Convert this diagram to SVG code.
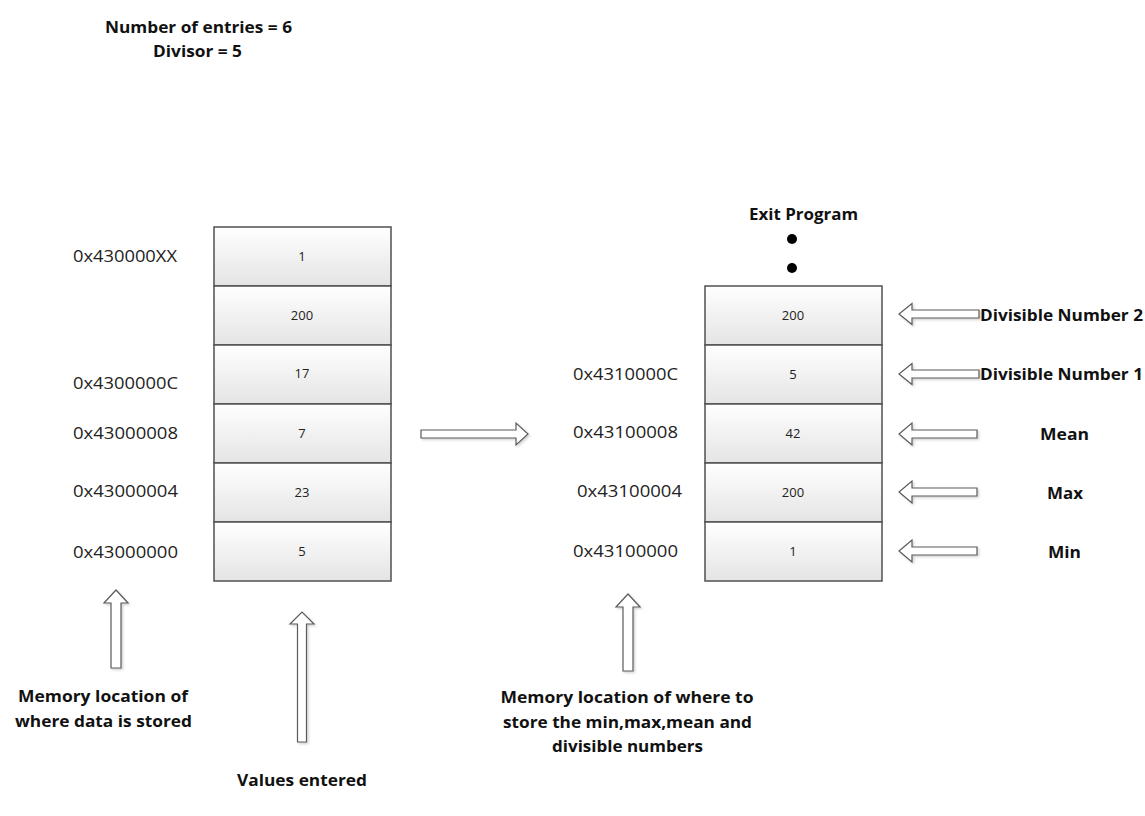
<svg xmlns="http://www.w3.org/2000/svg" width="1145" height="816" viewBox="0 0 1145 816">
<style>
.cell{stroke:#505050;stroke-width:1.5;fill:url(#g)}
.val{font-family:"Open Sans","Liberation Sans",sans-serif;font-size:13px;fill:#222;text-anchor:middle}
.addr{font-family:"Open Sans","Liberation Sans",sans-serif;font-size:17px;fill:#222}
.lbl{font-family:"Open Sans","Liberation Sans",sans-serif;font-size:16.5px;font-weight:bold;fill:#111}
.mid{text-anchor:middle}
.arr{fill:#fff;stroke:#5a5a5a;stroke-width:1.2;filter:url(#sh)}
</style>
<defs>
<linearGradient id="g" x1="0" y1="0" x2="0" y2="1">
<stop offset="0" stop-color="#ffffff"/>
<stop offset="1" stop-color="#e4e4e4"/>
</linearGradient>
<filter id="sh" x="-20%" y="-20%" width="140%" height="140%">
<feDropShadow dx="1.5" dy="1.5" stdDeviation="1.2" flood-color="#000" flood-opacity="0.18"/>
</filter>
</defs>
<rect width="1145" height="816" fill="#fff"/>

<g id="header">
<text class="lbl mid" x="198.5" y="33" textLength="187" lengthAdjust="spacingAndGlyphs">Number of entries = 6</text>
<text class="lbl mid" x="197.5" y="57" textLength="89" lengthAdjust="spacingAndGlyphs">Divisor = 5</text>
</g>

<g id="left-stack">
<rect class="cell" x="214" y="227" width="177" height="59"/>
<rect class="cell" x="214" y="286" width="177" height="59"/>
<rect class="cell" x="214" y="345" width="177" height="59"/>
<rect class="cell" x="214" y="404" width="177" height="59"/>
<rect class="cell" x="214" y="463" width="177" height="59"/>
<rect class="cell" x="214" y="522" width="177" height="59"/>
<text class="val" x="302" y="261">1</text>
<text class="val" x="302" y="320">200</text>
<text class="val" x="302" y="378">17</text>
<text class="val" x="302" y="438">7</text>
<text class="val" x="302" y="497">23</text>
<text class="val" x="302" y="556">5</text>
</g>

<g id="left-addresses">
<text class="addr" x="73" y="262" textLength="104" lengthAdjust="spacingAndGlyphs">0x430000XX</text>
<text class="addr" x="73" y="389" textLength="105" lengthAdjust="spacingAndGlyphs">0x4300000C</text>
<text class="addr" x="73" y="439" textLength="105" lengthAdjust="spacingAndGlyphs">0x43000008</text>
<text class="addr" x="73" y="497" textLength="105" lengthAdjust="spacingAndGlyphs">0x43000004</text>
<text class="addr" x="73" y="558" textLength="105" lengthAdjust="spacingAndGlyphs">0x43000000</text>
</g>

<g id="right-stack">
<rect class="cell" x="705" y="286" width="177" height="59"/>
<rect class="cell" x="705" y="345" width="177" height="59"/>
<rect class="cell" x="705" y="404" width="177" height="59"/>
<rect class="cell" x="705" y="463" width="177" height="59"/>
<rect class="cell" x="705" y="522" width="177" height="59"/>
<text class="val" x="793" y="320">200</text>
<text class="val" x="793" y="379">5</text>
<text class="val" x="793" y="438">42</text>
<text class="val" x="793" y="497">200</text>
<text class="val" x="793" y="556">1</text>
</g>

<g id="exit">
<text class="lbl mid" x="803.5" y="220" textLength="109" lengthAdjust="spacingAndGlyphs">Exit Program</text>
<circle cx="792" cy="239" r="5" fill="#000"/>
<circle cx="792" cy="268" r="5" fill="#000"/>
</g>

<g id="right-addresses">
<text class="addr" x="573" y="380" textLength="105" lengthAdjust="spacingAndGlyphs">0x4310000C</text>
<text class="addr" x="573" y="438" textLength="105" lengthAdjust="spacingAndGlyphs">0x43100008</text>
<text class="addr" x="577" y="497" textLength="105" lengthAdjust="spacingAndGlyphs">0x43100004</text>
<text class="addr" x="573" y="557" textLength="105" lengthAdjust="spacingAndGlyphs">0x43100000</text>
</g>

<g id="right-labels">
<text class="lbl" x="980" y="321" textLength="163" lengthAdjust="spacingAndGlyphs">Divisible Number 2</text>
<text class="lbl" x="980" y="380" textLength="163" lengthAdjust="spacingAndGlyphs">Divisible Number 1</text>
<text class="lbl mid" x="1064.5" y="440" textLength="49" lengthAdjust="spacingAndGlyphs">Mean</text>
<text class="lbl mid" x="1065" y="499" textLength="36" lengthAdjust="spacingAndGlyphs">Max</text>
<text class="lbl mid" x="1064.5" y="558" textLength="33" lengthAdjust="spacingAndGlyphs">Min</text>
</g>

<g id="bottom-labels">
<text class="lbl mid" x="103" y="702" textLength="170" lengthAdjust="spacingAndGlyphs">Memory location of</text>
<text class="lbl mid" x="103.5" y="727" textLength="177" lengthAdjust="spacingAndGlyphs">where data is stored</text>
<text class="lbl mid" x="302" y="786" textLength="130" lengthAdjust="spacingAndGlyphs">Values entered</text>
<text class="lbl mid" x="627" y="703" textLength="253" lengthAdjust="spacingAndGlyphs">Memory location of where to</text>
<text class="lbl mid" x="627.5" y="728" textLength="249" lengthAdjust="spacingAndGlyphs">store the min,max,mean and</text>
<text class="lbl mid" x="627.5" y="752" textLength="151" lengthAdjust="spacingAndGlyphs">divisible numbers</text>
</g>

<g id="connectors">
<path class="arr" d="M421,430 H516 V423 L528,434 L516,445 V438 H421 Z"/>
<path class="arr" d="M979,310 H912 V303.5 L899,314 L912,324.5 V318 H979 Z"/>
<path class="arr" d="M979,370 H912 V363.5 L899,374 L912,384.5 V378 H979 Z"/>
<path class="arr" d="M977,430 H912 V423 L899,434 L912,445 V438 H977 Z"/>
<path class="arr" d="M977,488 H912 V481 L899,492 L912,503 V496 H977 Z"/>
<path class="arr" d="M977,547 H912 V540 L899,551 L912,562 V555 H977 Z"/>
<path class="arr" d="M111,668 V603 H104 L116,590 L128,603 H121 V668 Z"/>
<path class="arr" d="M297.5,742 V624 H290 L302,612 L314,624 H306.5 V742 Z"/>
<path class="arr" d="M623,671 V607 H616 L628,594 L640,607 H633 V671 Z"/>
</g>
</svg>
